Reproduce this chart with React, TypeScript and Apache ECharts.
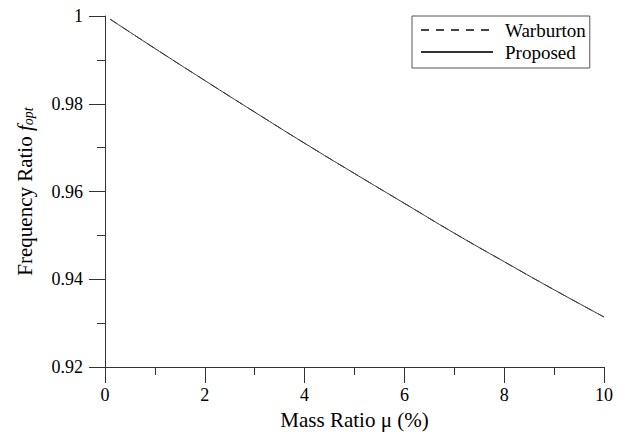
import React, { useEffect, useRef } from "react";
import * as echarts from "echarts";

const massRatio = [0.1, 1, 2, 3, 4, 5, 6, 7, 8, 9, 10];
const warburton = [0.9993, 0.9926, 0.9853, 0.9781, 0.971, 0.9641, 0.9573, 0.9505, 0.944, 0.9376, 0.9314];
const proposed = [0.9993, 0.9926, 0.9853, 0.9781, 0.971, 0.9641, 0.9573, 0.9505, 0.944, 0.9376, 0.9314];
const seriesNames = ["Warburton", "Proposed"];

const FONT = "Liberation Serif";

export default function App() {
  const ref = useRef<HTMLDivElement>(null);
  useEffect(() => {
    const chart = echarts.init(ref.current!, null, { renderer: "svg" });
    const axisColor = "#333";
    chart.setOption({
      animation: false,
      backgroundColor: "#fff",
      textStyle: { fontFamily: FONT, color: "#000" },
      grid: { left: 105, right: 25, top: 16, bottom: 68 },
      legend: {
        left: 412,
        top: 16,
        orient: "vertical",
        data: seriesNames,
        itemWidth: 72,
        itemHeight: 14,
        itemGap: 2,
        padding: [4, 4, 6, 8],
        borderColor: "#555",
        borderWidth: 1,
        backgroundColor: "#fff",
        itemStyle: { opacity: 0 },
        textStyle: { fontFamily: FONT, fontSize: 19, color: "#000", lineHeight: 20, padding: [0, 0, 0, 7] },
      },
      xAxis: {
        type: "value",
        min: 0,
        max: 10,
        interval: 2,
        name: "Mass Ratio \u03bc (%)",
        nameLocation: "middle",
        nameGap: 42,
        nameTextStyle: { fontFamily: FONT, fontSize: 21, color: "#000" },
        axisLine: { show: true, lineStyle: { color: axisColor, width: 1 } },
        axisTick: { show: true, length: 16, lineStyle: { color: axisColor } },
        minorTick: { show: true, splitNumber: 2, length: 8, lineStyle: { color: axisColor } },
        axisLabel: { fontFamily: FONT, fontSize: 18, color: "#000", margin: 19 },
        splitLine: { show: false },
      },
      yAxis: {
        type: "value",
        min: 0.92,
        max: 1,
        interval: 0.02,
        name: "{a|Frequency Ratio }{i|f}{s|opt}",
        nameLocation: "middle",
        nameGap: 70,
        nameRotate: 90,
        nameTextStyle: {
          fontFamily: FONT,
          fontSize: 21,
          color: "#000",
          rich: {
            a: { fontFamily: FONT, fontSize: 21, color: "#000" },
            i: { fontFamily: FONT, fontSize: 21, fontStyle: "italic", color: "#000" },
            s: { fontFamily: FONT, fontSize: 14, fontStyle: "italic", color: "#000", verticalAlign: "bottom", padding: [7, 0, 0, 0] },
          },
        },
        axisLine: { show: true, lineStyle: { color: axisColor, width: 1 } },
        axisTick: { show: true, length: 16, lineStyle: { color: axisColor } },
        minorTick: { show: true, splitNumber: 2, length: 8, lineStyle: { color: axisColor } },
        axisLabel: {
          fontFamily: FONT,
          fontSize: 18,
          color: "#000",
          margin: 22,
          formatter: (v: number) => String(parseFloat(v.toFixed(2))),
        },
        splitLine: { show: false },
      },
      series: [
        {
          name: seriesNames[0],
          type: "line",
          symbol: "none",
          data: massRatio.map((m, i) => [m, warburton[i]]),
          lineStyle: { color: "#444", width: 1, type: [8, 7] },
          itemStyle: { color: "#444" },
          smooth: true,
        },
        {
          name: seriesNames[1],
          type: "line",
          symbol: "none",
          data: massRatio.map((m, i) => [m, proposed[i]]),
          lineStyle: { color: "#333", width: 1, type: "solid" },
          itemStyle: { color: "#333" },
          smooth: true,
        },
      ],
    });
    return () => chart.dispose();
  }, []);
  return <div ref={ref} style={{ width: 629, height: 435, position: "absolute", left: 0, top: 0 }} />;
}
